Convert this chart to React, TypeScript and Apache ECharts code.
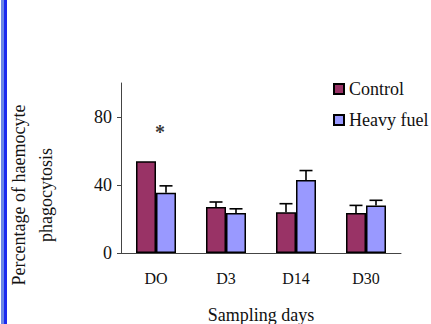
import React, { useEffect, useRef } from "react";
import * as echarts from "echarts";

const categories = ["DO", "D3", "D14", "D30"];
const controlMean = [54, 27, 24, 23.5];
const controlErr = [0, 3, 5, 4.5];
const fuelMean = [35.5, 23.5, 43, 28];
const fuelErr = [4, 2.5, 5.5, 3];
const yTicks = [0, 40, 80];
const starPoint = [0, 74];

const FONT = '"Liberation Serif", "Times New Roman", serif';
const BAR_W = 20;

export default function App() {
  const ref = useRef<HTMLDivElement>(null);
  useEffect(() => {
    if (!ref.current) return;
    const chart = echarts.init(ref.current, null, { renderer: "svg" });

    const errData = (means: number[], errs: number[]) =>
      means.map((m, i) => [i, m, m + errs[i]]);

    const errSeries = (name: string, data: number[][], side: number) => ({
      type: "custom",
      name: name + " err",
      silent: true,
      z: 1,
      data,
      encode: { x: 0, y: [1, 2] },
      renderItem: (params: any, api: any) => {
        const i = api.value(0);
        const lo = api.value(1);
        const hi = api.value(2);
        if (hi - lo <= 0) return { type: "group", children: [] };
        const p0 = api.coord([i, lo]);
        const p1 = api.coord([i, hi]);
        const x = p0[0] + side * (BAR_W / 2);
        const style = { stroke: "#000", lineWidth: 1.6 };
        return {
          type: "group",
          children: [
            { type: "line", shape: { x1: x, y1: p0[1], x2: x, y2: p1[1] }, style },
            { type: "line", shape: { x1: x - 6.5, y1: p1[1], x2: x + 6.5, y2: p1[1] }, style },
          ],
        };
      },
    });

    chart.setOption({
      animation: false,
      backgroundColor: "#fff",
      textStyle: { fontFamily: FONT },
      grid: { left: 121, right: 30, top: 83, bottom: 71, outerBoundsMode: "none", containLabel: false },
      legend: {
        orient: "vertical",
        left: 328,
        top: 75,
        itemWidth: 10,
        itemHeight: 10,
        itemGap: 13,
        icon: "rect",
        textStyle: { fontFamily: FONT, fontSize: 18, color: "#111" },
        data: ["Control", "Heavy fuel"],
      },
      xAxis: {
        type: "category",
        data: categories,
        axisLine: { lineStyle: { color: "#444", width: 1 } },
        axisTick: { show: false },
        axisLabel: { fontFamily: FONT, fontSize: 16, color: "#111", margin: 17 },
        name: "Sampling days",
        nameLocation: "middle",
        nameGap: 53,
        nameTextStyle: { fontFamily: FONT, fontSize: 18, color: "#111" },
      },
      yAxis: {
        type: "value",
        min: 0,
        max: 100,
        interval: 20,
        axisLine: { show: true, lineStyle: { color: "#444", width: 1 } },
        axisTick: { show: true, length: 4, customValues: yTicks, lineStyle: { color: "#444" } },
        axisLabel: { fontFamily: FONT, fontSize: 18, color: "#111", margin: 9, customValues: yTicks },
        splitLine: { show: false },
      },
      series: [
        {
          type: "bar",
          name: "Control",
          data: controlMean,
          barWidth: BAR_W,
          barGap: "0%",
          itemStyle: { color: "#993366", borderColor: "#000", borderWidth: 1.5 },
        },
        {
          type: "bar",
          name: "Heavy fuel",
          data: fuelMean,
          barWidth: BAR_W,
          barGap: "0%",
          itemStyle: { color: "#9999ff", borderColor: "#000", borderWidth: 1.5 },
        },
        errSeries("Control", errData(controlMean, controlErr), -1),
        errSeries("Heavy fuel", errData(fuelMean, fuelErr), 1),
        {
          type: "scatter",
          name: "significance",
          silent: true,
          symbol: "circle",
          symbolSize: 2,
          itemStyle: { color: "rgba(0,0,0,0)" },
          data: [starPoint],
          z: 5,
          label: {
            show: true,
            position: "inside",
            formatter: "*",
            fontSize: 20,
            fontWeight: "bold",
            color: "#000",
            offset: [4, 5],
            fontFamily: FONT,
          },
        },
      ],
      graphic: [
        { type: "rect", left: 1, top: 0, shape: { width: 3, height: 324 }, style: { fill: "#6b86e6" } },
        { type: "rect", left: 4, top: 0, shape: { width: 3, height: 324 }, style: { fill: "#1c2bef" } },
        {
          type: "text",
          x: 32,
          y: 195,
          rotation: Math.PI / 2,
          style: {
            text: "Percentage of haemocyte\nphagocytosis",
            fontFamily: FONT,
            fontSize: 18,
            lineHeight: 27,
            fill: "#111",
            align: "center",
            verticalAlign: "middle",
          },
        },
      ],
    });
    return () => chart.dispose();
  }, []);
  return <div ref={ref} style={{ width: 431, height: 324, position: "absolute", left: 0, top: 0 }} />;
}
